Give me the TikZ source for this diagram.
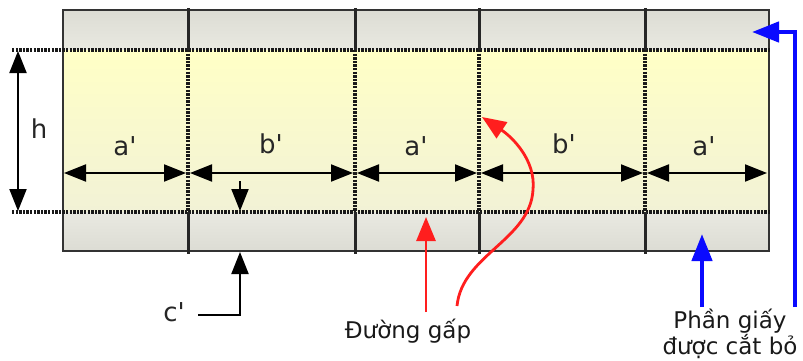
\documentclass[tikz,border=0pt]{standalone}
\usepackage{fontspec}
\setmainfont{DejaVu Sans}
\usetikzlibrary{arrows.meta}
\definecolor{bandtop}{HTML}{DCDCD4}
\definecolor{bandmid}{HTML}{E9E9E1}
\definecolor{yeltop}{HTML}{FFFFC6}
\definecolor{yelbot}{HTML}{F2F2D6}
\definecolor{redarr}{HTML}{FF1E1E}
\definecolor{bluearr}{HTML}{0A0AFF}
\tikzset{
  dimline/.style={line width=2pt, {Triangle[length=22pt,width=17pt]}-{Triangle[length=22pt,width=17pt]}},
  onearrow/.style={line width=2pt, -{Triangle[length=22pt,width=17pt]}},
  foldline/.style={line width=3.4pt, dash pattern=on 2.4pt off 1.2pt, black!90},
  solidfold/.style={line width=3pt, black!85},
  redline/.style={redarr, line width=2.8pt, -{Triangle[length=24pt,width=19pt]}},
  blueline/.style={bluearr, line width=4.5pt, -{Triangle[length=27pt,width=20pt]}},
  dimlabel/.style={font=\fontsize{26}{28}\selectfont, text=black!85, inner sep=0pt},
  notelabel/.style={font=\fontsize{23}{26}\selectfont, text=black!90, align=center, inner sep=0pt}
}
\begin{document}
\begin{tikzpicture}[x=1pt,y=-1pt]
\useasboundingbox (0,0) rectangle (803,360);
% fills
\shade[top color=bandtop, bottom color=bandmid] (63,10) rectangle (769,50);
\shade[top color=yeltop, bottom color=yelbot] (63,50) rectangle (769,212);
\shade[top color=bandmid, bottom color=bandtop] (63,212) rectangle (769,251);
% coordinates
\coordinate (TL) at (63,10);
\coordinate (BR) at (769,251);
\draw[line width=2.8pt, black!80] (TL) rectangle (BR);
% horizontal fold lines
\coordinate (h1l) at (12,50);  \coordinate (h1r) at (770,50);
\coordinate (h2l) at (12,212); \coordinate (h2r) at (770,212);
\draw[foldline] (h1l) -- (h1r);
\draw[foldline] (h2l) -- (h2r);
% vertical fold lines
\foreach \xx/\nm in {188/v1,355/v2,479/v3,645/v4}{
  \coordinate (\nm t) at (\xx,8);
  \coordinate (\nm a) at (\xx,50);
  \coordinate (\nm b) at (\xx,212);
  \coordinate (\nm e) at (\xx,254);
  \draw[solidfold] (\nm t) -- (\nm a);
  \draw[foldline] (\nm a) -- (\nm b);
  \draw[solidfold] (\nm b) -- (\nm e);
}
% dimension arrows
\coordinate (d0) at (64,173);
\coordinate (d1l) at (186,173); \coordinate (d1r) at (190,173);
\coordinate (d2l) at (353,173); \coordinate (d2r) at (357,173);
\coordinate (d3l) at (477,173); \coordinate (d3r) at (481,173);
\coordinate (d4l) at (643,173); \coordinate (d4r) at (647,173);
\coordinate (d5) at (767,173);
\draw[dimline] (d0) -- (d1l);
\draw[dimline] (d1r) -- (d2l);
\draw[dimline] (d2r) -- (d3l);
\draw[dimline] (d3r) -- (d4l);
\draw[dimline] (d4r) -- (d5);
\node[dimlabel] (la1) at (125,146) {a\textquotesingle};
\node[dimlabel] (lb1) at (271,144) {b\textquotesingle};
\node[dimlabel] (la2) at (416,146) {a\textquotesingle};
\node[dimlabel] (lb2) at (564,144) {b\textquotesingle};
\node[dimlabel] (la3) at (704,146) {a\textquotesingle};
% h
\coordinate (ht) at (18,51);
\coordinate (hb) at (18,211);
\draw[dimline] (ht) -- (hb);
\node[dimlabel] (lh) at (39,129) {h};
% c'
\coordinate (c1) at (240,181);
\coordinate (c2) at (240,211);
\coordinate (c3) at (198,315);
\coordinate (c4) at (240,315);
\coordinate (c5) at (240,252);
\draw[onearrow] (c1) -- (c2);
\draw[onearrow] (c3) -- (c4) -- (c5);
\node[dimlabel] (lc) at (174,312) {c\textquotesingle};
% red arrows
\node[notelabel] (fold) at (408,331) {Đường gấp};
\coordinate (r1s) at (426,312);
\coordinate (r1e) at (426,217);
\draw[redline] (r1s) -- (r1e);
\coordinate (r2s) at (457,306);
\coordinate (r2m) at (533,190);
\coordinate (r2e) at (482,117);
\draw[redline] (r2s) .. controls (462,255) and (530,240) .. (r2m) .. controls (536,160) and (512,137) .. (r2e);
% blue arrows
\node[notelabel] (cut) at (730,334) {Phần giấy\\được cắt bỏ};
\coordinate (b1s) at (702,307);
\coordinate (b1e) at (702,234);
\draw[blueline] (b1s) -- (b1e);
\coordinate (b2s) at (795,307);
\coordinate (b2m) at (795,32);
\coordinate (b2e) at (752,32);
\draw[blueline] (b2s) -- (b2m) -- (b2e);
\end{tikzpicture}
\end{document}
